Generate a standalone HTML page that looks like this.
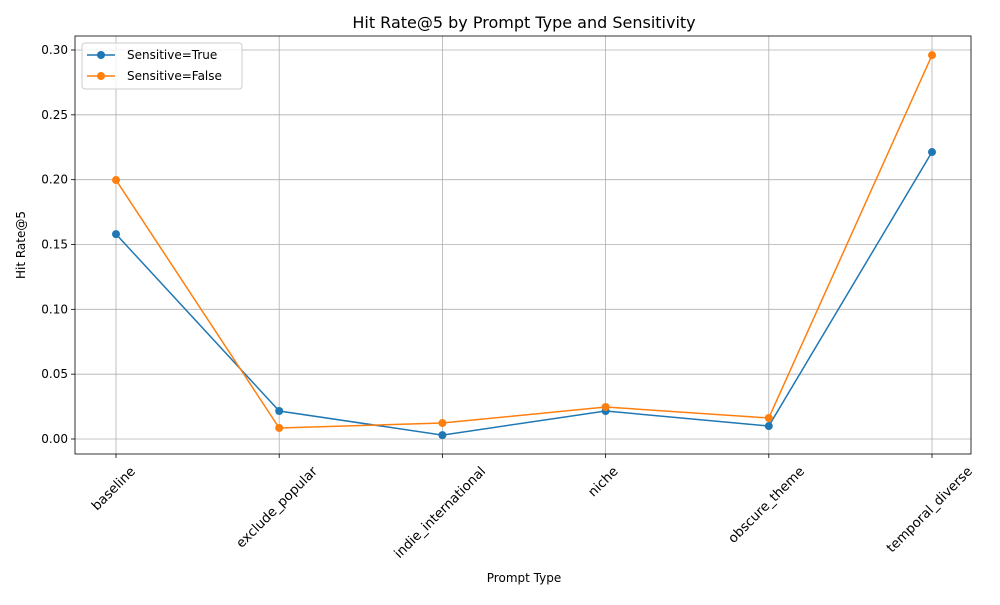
<!DOCTYPE html>
<html><head><meta charset="utf-8"><style>
body{margin:0;background:#fff;font-family:"Liberation Sans","DejaVu Sans",sans-serif;}
svg text{font-family:"DejaVu Sans","Liberation Sans",sans-serif;}
</style></head><body>
<svg id="chart" width="1000" height="600" xmlns="http://www.w3.org/2000/svg"></svg>
<script>
const categories=["baseline","exclude_popular","indie_international","niche","obscure_theme","temporal_diverse"];
const sensitiveTrue=[0.158,0.0216,0.003,0.0216,0.010,0.2213];
const sensitiveFalse=[0.1997,0.0085,0.0123,0.0247,0.0162,0.296];
const yTicks=[0,0.05,0.10,0.15,0.20,0.25,0.30];
const yTickLabels=["0.00","0.05","0.10","0.15","0.20","0.25","0.30"];
const seriesNames=["Sensitive=True","Sensitive=False"];

const svg=document.getElementById('chart');
const NS='http://www.w3.org/2000/svg';
const L=75,R=971,T=36,B=454;
function xs(i){return 116+i*(932-116)/(categories.length-1);}
function ys(v){return 439-v*(439-50)/0.30;}
function mk(tag,attrs,parent){const e=document.createElementNS(NS,tag);for(const k in attrs)e.setAttribute(k,attrs[k]);(parent||svg).appendChild(e);return e;}

const t=mk('text',{x:524,y:28,'text-anchor':'middle','font-size':16,fill:'#000'});t.textContent='Hit Rate@5 by Prompt Type and Sensitivity';



const grid=mk('g',{});


categories.forEach((c,i)=>{
  mk('line',{x1:xs(i),x2:xs(i),y1:T,y2:B,stroke:'#b0b0b0','stroke-width':0.8},grid);
  mk('line',{x1:xs(i),x2:xs(i),y1:B,y2:B+4,stroke:'#000','stroke-width':0.8});
  const lb=mk('text',{'text-anchor':'middle','dominant-baseline':'central','font-size':13.2,fill:'#000'});
  lb.textContent=c;
  const w=lb.getComputedTextLength();
  const half=(w+13)*0.7071/2;
  lb.setAttribute('transform',`translate(${xs(i)-2},${B+11+half}) rotate(-45)`);
  
  
});
yTicks.forEach((v,i)=>{
  mk('line',{x1:L,x2:R,y1:ys(v),y2:ys(v),stroke:'#b0b0b0','stroke-width':0.8},grid);
  mk('line',{x1:L-4,x2:L,y1:ys(v),y2:ys(v),stroke:'#000','stroke-width':0.8});
  const lb=mk('text',{x:L-7,y:ys(v)+4,'text-anchor':'end','font-size':12,fill:'#000'});
  lb.textContent=yTickLabels[i];
  
  
});
const frame=mk('rect',{x:L,y:T,width:R-L,height:B-T,fill:'none',stroke:'#000','stroke-width':0.8});



const xt=mk('text',{x:524,y:582,'text-anchor':'middle','font-size':12,fill:'#000'});xt.textContent='Prompt Type';


const yt=mk('text',{transform:'translate(25,245) rotate(-90)','text-anchor':'middle','font-size':12,fill:'#000'});yt.textContent='Hit Rate@5';



const colors=['#1f77b4','#ff7f0e'];
[sensitiveTrue,sensitiveFalse].forEach((data,s)=>{
  const g=mk('g',{});
  
  
  mk('polyline',{points:data.map((v,i)=>xs(i)+','+ys(v)).join(' '),fill:'none',stroke:colors[s],'stroke-width':1.5},g);
  data.forEach((v,i)=>{
    const c=mk('circle',{cx:xs(i),cy:ys(v),r:4,fill:colors[s]},g);
    
    
  });
});

const lg=mk('g',{});


mk('rect',{x:82,y:43,width:160,height:46,rx:3,fill:'#fff','fill-opacity':0.8,stroke:'#ccc'},lg);
seriesNames.forEach((n,s)=>{
  const y=55+s*21;
  const e=mk('g',{},lg);
  
  
  mk('line',{x1:87,x2:115,y1:y,y2:y,stroke:colors[s],'stroke-width':1.5},e);
  mk('circle',{cx:101,cy:y,r:4,fill:colors[s]},e);
  const tx=mk('text',{x:127,y:y+4,'font-size':12,fill:'#000'},e);tx.textContent=n;
});
</script>
</body></html>
